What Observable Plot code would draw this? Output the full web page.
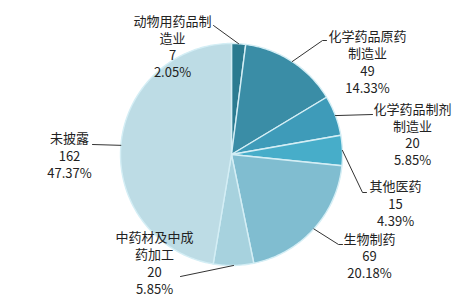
<!DOCTYPE html>
<html><head><meta charset="utf-8">
<script src="https://cdn.jsdelivr.net/npm/d3@7"></script>
<script src="https://cdn.jsdelivr.net/npm/@observablehq/plot@0.6"></script>
<style>body{margin:0;background:#fff;overflow:hidden}</style>
</head><body><div id="chart"></div>
<script>
// ---- data ----
const categories = ["动物用药品制造业", "化学药品原药制造业", "化学药品制剂制造业", "其他医药", "生物制药", "中药材及中成药加工", "未披露"];
const counts = [7, 49, 20, 15, 69, 20, 162];
const labelNames = [["动物用药品制", "造业"], ["化学药品原药", "制造业"], ["化学药品制剂", "制造业"], ["其他医药"], ["生物制药"], ["中药材及中成", "药加工"], ["未披露"]];
const sliceColors = ["#2b7b90", "#3a8da6", "#3e9bb9", "#47adc9", "#80bdd0", "#a7d2de", "#bddce5"];

// ---- layout (pixels) ----
const W = 467, H = 305, cx = 231, cy = 154, R = 111;
// label block centre and leader elbow points (from slice edge outward)
const labelLayout = [
  {x: 172, y: 45.5, leader: [[213, 25]]},
  {x: 367, y: 61,   leader: [[322, 40], [326, 40]]},
  {x: 412, y: 133.5, leader: [[372, 114]]},
  {x: 395, y: 202.5, leader: [[362, 192], [366, 192]]},
  {x: 369, y: 255,  leader: [[338, 244], [342, 244]]},
  {x: 154, y: 262,  leader: [[180, 276]]},
  {x: 69,  y: 154.5, leader: [[92, 144]]}
];

const total = d3.sum(counts);
const pct = d3.format(".2%");
const arcs = d3.pie().sort(null).value(d => d)(counts);

const pt = (a, r) => ({x: cx + r * Math.sin(a), y: cy - r * Math.cos(a)});

const slicePts = [];
arcs.forEach((a, i) => {
  const name = categories[i];
  slicePts.push({name, ...pt(0, 0)});
  const n = Math.max(2, Math.ceil((a.endAngle - a.startAngle) / (Math.PI / 180)));
  for (let k = 0; k <= n; k++) {
    const t = a.startAngle + (a.endAngle - a.startAngle) * k / n;
    slicePts.push({name, ...pt(t, R)});
  }
});

const leaderPts = [];
arcs.forEach((a, i) => {
  const mid = (a.startAngle + a.endAngle) / 2;
  const s = pt(mid, R);
  leaderPts.push({id: i, x: s.x, y: s.y});
  labelLayout[i].leader.forEach(([x, y]) => leaderPts.push({id: i, x, y}));
});

const labels = categories.map((c, i) => ({
  x: labelLayout[i].x,
  y: labelLayout[i].y,
  text: [...labelNames[i], String(counts[i]), pct(counts[i] / total)].join("\n")
}));

const chart = Plot.plot({
  width: W, height: H,
  margin: 0,
  style: {background: "#fff", fontFamily: "'Noto Sans CJK SC', sans-serif"},
  x: {domain: [0, W], range: [0, W], axis: null},
  y: {domain: [0, H], range: [0, H], axis: null},
  color: {domain: categories, range: sliceColors},
  marks: [
    Plot.line(slicePts, {x: "x", y: "y", z: "name", fill: "name", stroke: "#d4eef5", strokeWidth: 1.4, curve: "linear-closed"}),
    Plot.line(leaderPts, {x: "x", y: "y", z: "id", stroke: "#333", strokeWidth: 1}),
    Plot.text(labels, {x: "x", y: "y", text: "text", textAnchor: "middle", lineAnchor: "middle", lineHeight: 1.33, fontSize: 13, fill: "#222"})
  ]
});
document.getElementById("chart").appendChild(chart);
</script>
</body></html>
